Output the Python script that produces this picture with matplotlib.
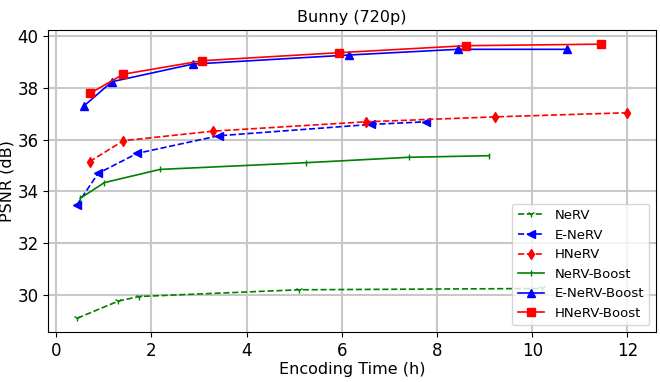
import matplotlib
matplotlib.use('Agg')
import matplotlib.pyplot as plt

# Encoding time (h) and PSNR (dB) per method
nerv_t = [0.44, 1.30, 1.74, 5.10, 10.2]
nerv_psnr = [29.10, 29.76, 29.94, 30.20, 30.25]

enerv_t = [0.43, 0.88, 1.70, 3.41, 6.62, 7.77]
enerv_psnr = [33.47, 34.70, 35.47, 36.15, 36.59, 36.69]

hnerv_t = [0.70, 1.41, 3.30, 6.51, 9.21, 12.0]
hnerv_psnr = [35.15, 35.96, 36.33, 36.69, 36.88, 37.04]

nerv_boost_t = [0.50, 1.01, 2.18, 5.25, 7.42, 9.10]
nerv_boost_psnr = [33.73, 34.34, 34.85, 35.11, 35.32, 35.38]

enerv_boost_t = [0.58, 1.17, 2.87, 6.14, 8.43, 10.73]
enerv_boost_psnr = [37.30, 38.24, 38.92, 39.27, 39.49, 39.49]

hnerv_boost_t = [0.71, 1.41, 3.07, 5.93, 8.60, 11.45]
hnerv_boost_psnr = [37.79, 38.53, 39.05, 39.36, 39.63, 39.69]

fig = plt.figure(figsize=(6.6, 3.82), dpi=100)
ax = fig.add_subplot(1, 1, 1)

ax.plot(nerv_t, nerv_psnr, '--', color='g', marker='1', markersize=5, linewidth=1.2, label='NeRV')
ax.plot(enerv_t, enerv_psnr, '--', color='b', marker='<', markersize=5.5, linewidth=1.2, label='E-NeRV')
ax.plot(hnerv_t, hnerv_psnr, '--', color='r', marker='d', markersize=5.5, linewidth=1.2, label='HNeRV')
ax.plot(nerv_boost_t, nerv_boost_psnr, '-', color='g', marker='|', markersize=4, linewidth=1.2, label='NeRV-Boost')
ax.plot(enerv_boost_t, enerv_boost_psnr, '-', color='b', marker='^', markersize=5.5, linewidth=1.2, label='E-NeRV-Boost')
ax.plot(hnerv_boost_t, hnerv_boost_psnr, '-', color='r', marker='s', markersize=5.5, linewidth=1.2, label='HNeRV-Boost')

ax.set_xlim(-0.17, 12.6)
ax.set_ylim(28.57, 40.23)
ax.set_xticks([0, 2, 4, 6, 8, 10, 12])
ax.set_yticks([30, 32, 34, 36, 38, 40])
ax.tick_params(labelsize=12)
ax.grid(True, color='#c8c8c8', linewidth=1.5)
ax.set_axisbelow(True)

ax.set_title('Bunny (720p)', fontsize=11.5)
ax.set_xlabel('Encoding Time (h)', fontsize=11.5, labelpad=2)
ax.set_ylabel('PSNR (dB)', fontsize=11.5, labelpad=2)
ax.legend(loc='lower right', fontsize=9.5)

fig.subplots_adjust(left=0.073, right=0.994, top=0.921, bottom=0.131)
plt.savefig('out.png', dpi=100)
